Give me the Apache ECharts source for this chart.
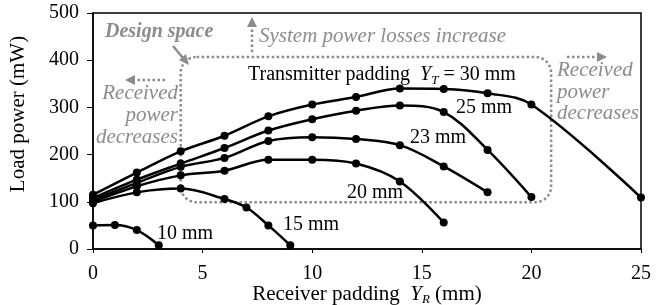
<!DOCTYPE html>
<html>
<head>
<meta charset="utf-8">
<script src="https://cdn.jsdelivr.net/npm/echarts@6/dist/echarts.min.js"></script>
<style>
html,body{margin:0;padding:0;background:#fff;}
#chart{width:664px;height:305px;}
</style>
</head>
<body>
<div id="chart"></div>
<script>
// 接收端 padding (横轴) 与负载功率 (纵轴), 每条线一组
const xs30 = [0, 2, 4, 6, 8, 10, 12, 14, 16, 18, 20, 25]
const p30 = [115, 162, 207, 240, 281, 306, 322, 340, 339, 330, 306, 109]
const xs25 = [0, 2, 4, 6, 8, 10, 12, 14, 16, 18, 20]
const p25 = [108, 147, 181, 214, 251, 275, 293, 304, 290, 210, 110]
const xs23 = [0, 2, 4, 6, 8, 10, 12, 14, 16, 18]
const p23 = [104, 140, 174, 193, 229, 237, 233, 220, 175, 120]
const xs20 = [0, 2, 4, 6, 8, 10, 12, 14, 16]
const p20 = [100, 133, 156, 166, 189, 189, 181, 143, 56]
const xs15 = [0, 2, 4, 6, 7, 8, 9]
const p15 = [97, 120, 128, 106, 88, 50, 8]
const xs10 = [0, 1, 2, 3]
const p10 = [50, 51, 40, 8]

// 设计区域 (数据坐标)
const designX = [4, 20.9]
const designY = [99, 407]

const font = 'Liberation Serif'
const gray = '#8c8c8c'

function mkSeries(name, xs, ys){
  return {
    name: name,
    type: 'line',
    data: xs.map((x, i) => [x, ys[i]]),
    smooth: 0.35,
    symbol: 'circle',
    symbolSize: 8,
    lineStyle: { color: '#000', width: 2.5 },
    itemStyle: { color: '#000' },
    z: 3
  }
}

const chart = echarts.init(document.getElementById('chart'))
chart.setOption({
  animation: false,
  grid: {
    left: 93, right: 23, top: 13, bottom: 56,
    outerBoundsMode: 'none',
    containLabel: false,
    show: true, borderColor: '#000', borderWidth: 1.5
  },
  xAxis: {
    type: 'value', min: 0, max: 25, interval: 5,
    name: '{n|Receiver padding  }{i|Y}{s|R}{n| (mm)}',
    nameLocation: 'middle', nameGap: 33,
    nameMoveOverlap: false,
    nameTextStyle: {
      rich: {
        n: { fontFamily: font, fontSize: 21, color: '#000', lineHeight: 24 },
        i: { fontFamily: font, fontSize: 21, color: '#000', fontStyle: 'italic', lineHeight: 24 },
        s: { fontFamily: font, fontSize: 13, color: '#000', fontStyle: 'italic', lineHeight: 15, verticalAlign: 'bottom' }
      }
    },
    axisLine: { lineStyle: { color: '#000', width: 1.5 } },
    axisTick: { show: true, length: 4, lineStyle: { color: '#000' } },
    axisLabel: { fontFamily: font, fontSize: 20, color: '#000', margin: 15 },
    splitLine: { show: false }
  },
  yAxis: {
    type: 'value', min: 0, max: 500, interval: 100,
    name: 'Load power (mW)',
    nameLocation: 'middle', nameGap: 64,
    nameMoveOverlap: false,
    nameTextStyle: { fontFamily: font, fontSize: 21, color: '#000', padding: [0, 0, 0, 34] },
    axisLine: { show: true, lineStyle: { color: '#000', width: 1.5 } },
    axisTick: { show: true, length: 6, lineStyle: { color: '#000' } },
    axisLabel: { fontFamily: font, fontSize: 20, color: '#000', margin: 14 },
    splitLine: { show: false }
  },
  series: [
    mkSeries('30 mm', xs30, p30),
    mkSeries('25 mm', xs25, p25),
    mkSeries('23 mm', xs23, p23),
    mkSeries('20 mm', xs20, p20),
    mkSeries('15 mm', xs15, p15),
    mkSeries('10 mm', xs10, p10)
  ]
})

// 注释: 设计区域虚线框, 箭头, 文字
const a = chart.convertToPixel({ gridIndex: 0 }, [designX[0], designY[1]])
const b = chart.convertToPixel({ gridIndex: 0 }, [designX[1], designY[0]])
const dotted = { stroke: gray, lineWidth: 2.5, lineDash: [2.5, 2.5], fill: null }
const txt = (x, y, text, extra) => ({
  type: 'text', x: x, y: y, z: 10,
  style: Object.assign({ text: text, fontFamily: font, fontSize: 20, fill: '#000', verticalAlign: 'middle' }, extra || {})
})
const grayItalic = { fill: gray, fontStyle: 'italic', fontSize: 21 }

chart.setOption({
  graphic: [
    { type: 'rect', z: 1, shape: { x: a[0], y: a[1], width: b[0] - a[0], height: b[1] - a[1], r: 16 }, style: dotted },
    // 箭头
    { type: 'line', shape: { x1: 165, y1: 80, x2: 133, y2: 80 }, style: dotted },
    { type: 'polygon', shape: { points: [[125, 80], [135, 75], [135, 85]] }, style: { fill: gray } },
    { type: 'line', shape: { x1: 252, y1: 52, x2: 252, y2: 25 }, style: dotted },
    { type: 'polygon', shape: { points: [[252, 17], [247, 27], [257, 27]] }, style: { fill: gray } },
    { type: 'line', shape: { x1: 567, y1: 57, x2: 598, y2: 57 }, style: dotted },
    { type: 'polygon', shape: { points: [[607, 57], [597, 52], [597, 62]] }, style: { fill: gray } },
    { type: 'line', shape: { x1: 173, y1: 46, x2: 183, y2: 58 }, style: { stroke: gray, lineWidth: 2.5 } },
    { type: 'polygon', shape: { points: [[189, 65], [179, 60], [186, 54]] }, style: { fill: gray } },
    // 灰色斜体说明
    txt(105, 32, 'Design space', { fill: gray, fontStyle: 'italic', fontWeight: 'bold', fontSize: 20 }),
    txt(259, 36, 'System power losses increase', grayItalic),
    txt(178, 93, 'Received', Object.assign({ align: 'right' }, grayItalic)),
    txt(178, 115, 'power', Object.assign({ align: 'right' }, grayItalic)),
    txt(178, 137, 'decreases', Object.assign({ align: 'right' }, grayItalic)),
    txt(557, 70, 'Received', grayItalic),
    txt(557, 92, 'power', grayItalic),
    txt(557, 113, 'decreases', grayItalic),
    // 曲线标签
    {
      type: 'text', x: 248, y: 75, z: 10,
      style: {
        text: '{n|Transmitter padding  }{i|Y}{s|T}{n| = 30 mm}',
        verticalAlign: 'middle',
        rich: {
          n: { fontFamily: font, fontSize: 20, fill: '#000', lineHeight: 24 },
          i: { fontFamily: font, fontSize: 20, fill: '#000', fontStyle: 'italic', lineHeight: 24 },
          s: { fontFamily: font, fontSize: 13, fill: '#000', fontStyle: 'italic', lineHeight: 15, verticalAlign: 'bottom' }
        }
      }
    },
    txt(456, 108, '25 mm'),
    txt(410, 138, '23 mm'),
    txt(347, 193, '20 mm'),
    txt(283, 225, '15 mm'),
    txt(157, 234, '10 mm')
  ]
})
</script>
</body>
</html>
